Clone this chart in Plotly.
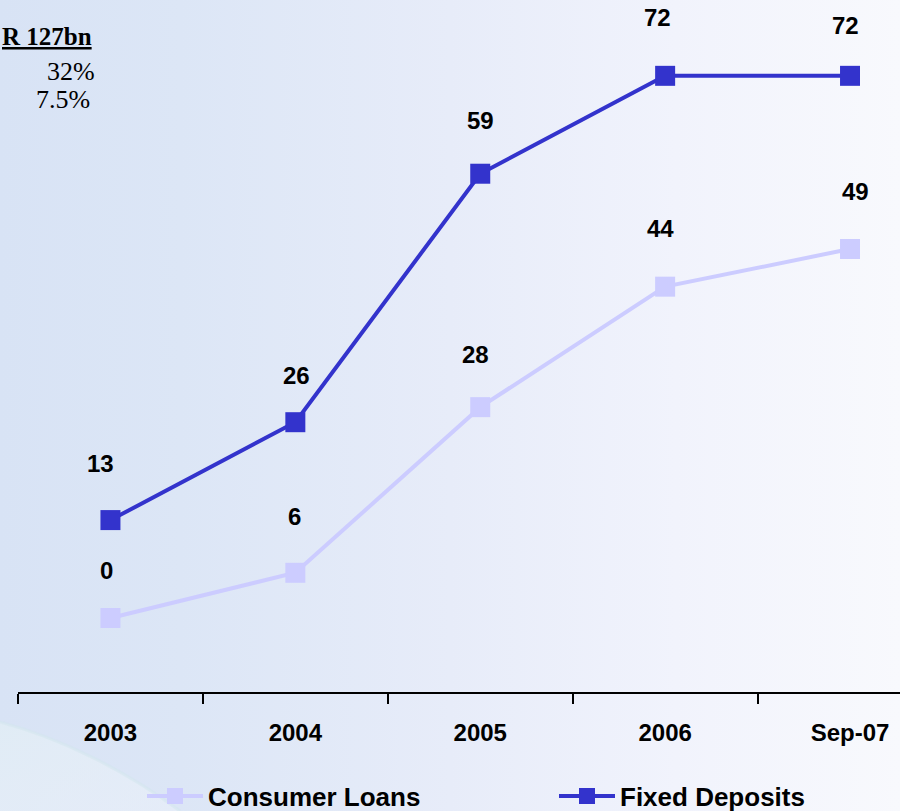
import base64
import plotly.graph_objects as go

# Categories and series values
periods = ["2003", "2004", "2005", "2006", "Sep-07"]
consumer_loans = [0, 6, 28, 44, 49]
fixed_deposits = [13, 26, 59, 72, 72]

# Label placement tweaks (pixels) for the value labels
fd_label_dy = [57, 47, 53, 58, 50]
fd_label_dx = [-10, 1, 0, -8, -5]
cl_label_dy = [47, 56, 53, 58, 58]
cl_label_dx = [-4, -1, -5, -5, 5]

W, H = 900, 811
ML, MR, MT, MB = 18, 0, 0, 119
PW, PH = W - ML - MR, H - MT - MB

FD_COLOR = "#3333CC"
CL_COLOR = "#CCCCFF"
FONT = "Arial, Liberation Sans, sans-serif"

# Soft blue-to-white slide background with a pale swoosh in the lower left
bg_svg = f"""<svg xmlns='http://www.w3.org/2000/svg' width='{W}' height='{H}' viewBox='0 0 {W} {H}' preserveAspectRatio='none'>
<defs>
<linearGradient id='g' x1='0' y1='0' x2='1' y2='0'>
<stop offset='0' stop-color='#D8E3F5'/>
<stop offset='0.2' stop-color='#DCE6F6'/>
<stop offset='0.5' stop-color='#E7ECF9'/>
<stop offset='0.75' stop-color='#F1F3FC'/>
<stop offset='1' stop-color='#F8F9FD'/>
</linearGradient>
<linearGradient id='s' x1='0' y1='0' x2='1' y2='1'>
<stop offset='0' stop-color='#E2EEF5' stop-opacity='0.8'/>
<stop offset='1' stop-color='#EEF2FA' stop-opacity='0.5'/>
</linearGradient>
</defs>
<rect x='0' y='0' width='{W}' height='{H}' fill='url(#g)'/>
<path d='M0,722 C60,738 125,770 180,811 L0,811 Z' fill='url(#s)'/>
<path d='M0,722 C60,738 125,770 180,811' fill='none' stroke='#D4E6EF' stroke-opacity='0.6' stroke-width='3'/>
</svg>"""
bg_uri = "data:image/svg+xml;base64," + base64.b64encode(bg_svg.encode()).decode()


def px_x(px):
    return (px - ML) / PW


def px_y(py):
    return (MT + PH - py) / PH


fig = go.Figure()

fig.add_trace(go.Scatter(
    x=periods, y=consumer_loans, name="Consumer Loans",
    mode="lines+markers", legend="legend",
    line=dict(color=CL_COLOR, width=4),
    marker=dict(symbol="square", size=20, color=CL_COLOR),
))
fig.add_trace(go.Scatter(
    x=periods, y=fixed_deposits, name="Fixed Deposits",
    mode="lines+markers", legend="legend2",
    line=dict(color=FD_COLOR, width=4),
    marker=dict(symbol="square", size=20, color=FD_COLOR),
))

annotations = []
for series, dys, dxs in ((fixed_deposits, fd_label_dy, fd_label_dx),
                         (consumer_loans, cl_label_dy, cl_label_dx)):
    for i, (v, dy, dx) in enumerate(zip(series, dys, dxs)):
        annotations.append(dict(
            x=i, y=v, xref="x", yref="y", text=str(v), showarrow=False,
            xshift=dx, yshift=dy, xanchor="center", yanchor="middle",
            font=dict(family=FONT, size=24, color="black", weight="bold"),
        ))

serif = "Times New Roman, Liberation Serif, serif"
annotations += [
    dict(x=px_x(94), y=px_y(37), xref="paper", yref="paper", showarrow=False,
         text="<b><u>R 127bn</u></b>", xanchor="right", yanchor="middle",
         font=dict(family=serif, size=25, color="black")),
    dict(x=px_x(97), y=px_y(72), xref="paper", yref="paper", showarrow=False,
         text="32%", xanchor="right", yanchor="middle",
         font=dict(family=serif, size=26, color="black")),
    dict(x=px_x(92), y=px_y(100), xref="paper", yref="paper", showarrow=False,
         text="7.5%", xanchor="right", yanchor="middle",
         font=dict(family=serif, size=26, color="black")),
]

legend_style = dict(
    orientation="h", xanchor="left", yanchor="middle",
    bgcolor="rgba(0,0,0,0)",
    font=dict(family=FONT, size=26, color="black", weight="bold"),
    itemsizing="trace", itemwidth=56,
)

fig.update_layout(
    width=W, height=H,
    margin=dict(l=ML, r=MR, t=MT, b=MB, pad=0, autoexpand=False),
    paper_bgcolor="rgba(0,0,0,0)",
    plot_bgcolor="rgba(0,0,0,0)",
    showlegend=True,
    legend=dict(x=px_x(142), y=px_y(796), **legend_style),
    legend2=dict(x=px_x(554), y=px_y(796), **legend_style),
    images=[dict(
        source=bg_uri, xref="paper", yref="paper",
        x=-ML / PW, y=1 + MT / PH, sizex=W / PW, sizey=H / PH,
        xanchor="left", yanchor="top", sizing="stretch", layer="below",
    )],
    annotations=annotations,
    xaxis=dict(
        type="category", range=[-0.5, (W - 110) / 185],
        showgrid=False, zeroline=False, automargin=False,
        showline=True, linecolor="black", linewidth=2,
        ticks="outside", tickson="boundaries", ticklen=10, tickwidth=2,
        tickcolor="black",
        tickfont=dict(family=FONT, size=24, color="black", weight="bold"),
        ticklabelstandoff=18,
    ),
    yaxis=dict(
        range=[-9.83, 82.07], visible=False, showgrid=False, zeroline=False,
    ),
)

fig.write_html("out.html")
